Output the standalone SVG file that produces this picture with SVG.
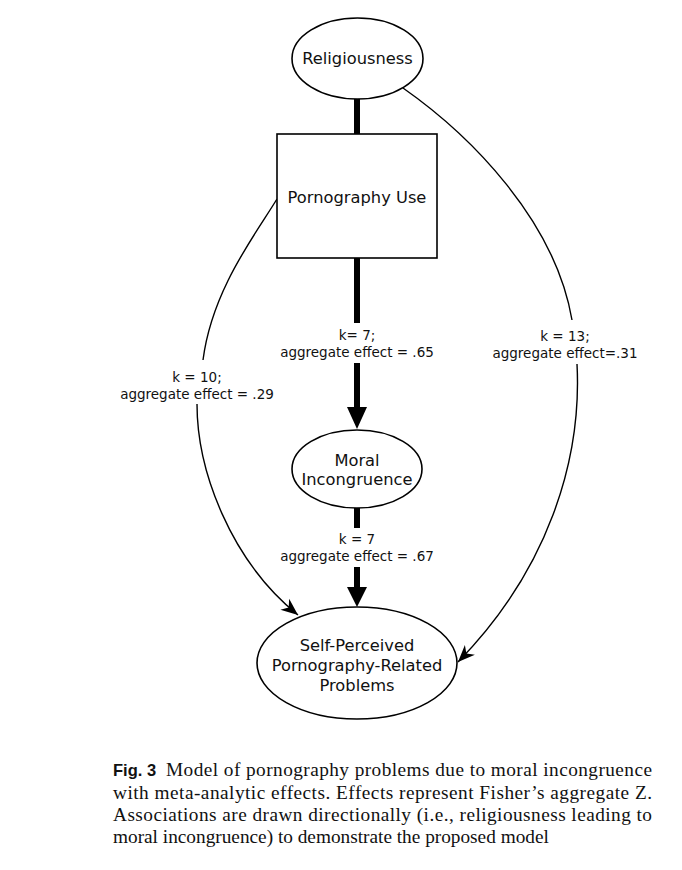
<svg xmlns="http://www.w3.org/2000/svg" width="682" height="870" viewBox="0 0 682 870">
<style>
.node{fill:#fff;stroke:#000;stroke-width:1.6}
.nt{font-family:"DejaVu Sans",sans-serif;font-size:16.3px;fill:#111;text-anchor:middle}
.lb{font-family:"DejaVu Sans",sans-serif;font-size:13.5px;fill:#111;text-anchor:middle}
.thick{stroke:#000;stroke-width:6;fill:none}
.thin{stroke:#000;stroke-width:1.4;fill:none}
.cap{font-family:"Liberation Serif",serif;font-size:19.3px;fill:#111}
.capb{font-family:"Liberation Sans",sans-serif;font-size:16.5px;font-weight:bold;fill:#111}
</style>
<defs>
<marker id="barb" markerUnits="userSpaceOnUse" markerWidth="20" markerHeight="16" refX="0" refY="0" viewBox="-18 -8 20 16" orient="auto">
<path d="M0,0 L-17,-7 L-12,0 L-17,7 Z" fill="#000"/>
</marker>
</defs>
<rect width="682" height="870" fill="#fff"/>
<g id="connectors">
<line class="thick" x1="357" y1="99" x2="357" y2="134"/>
<line class="thick" x1="357" y1="258" x2="357" y2="323"/>
<line class="thick" x1="357" y1="363" x2="357" y2="410"/>
<path d="M347,407 L367,407 L357,429 Z" fill="#000"/>
<line class="thick" x1="357" y1="508" x2="357" y2="528"/>
<line class="thick" x1="357" y1="567" x2="357" y2="589"/>
<path d="M347,587 L367,587 L357,607 Z" fill="#000"/>
<path class="thin" d="M277,199 C255,235 212,290 203,360"/>
<path class="thin" d="M197,404 C197,470 230,560 298,615" marker-end="url(#barb)"/>
<path class="thin" d="M403,88 C470,135 555,220 572,320"/>
<path class="thin" d="M577,364 C582,460 548,570 458,662" marker-end="url(#barb)"/>
<text class="lb" x="357" y="340">k= 7;</text>
<text class="lb" x="357" y="357">aggregate effect = .65</text>
<text class="lb" x="357" y="544">k = 7</text>
<text class="lb" x="357" y="561">aggregate effect = .67</text>
<text class="lb" x="197" y="382">k = 10;</text>
<text class="lb" x="197" y="399">aggregate effect = .29</text>
<text class="lb" x="565" y="341">k = 13;</text>
<text class="lb" x="565" y="358">aggregate effect=.31</text>
</g>
<g id="religiousness">
<ellipse class="node" cx="357.5" cy="58.5" rx="65.5" ry="40.5"/>
<text class="nt" x="357.5" y="64">Religiousness</text>
</g>
<g id="pornography-use">
<rect class="node" x="277" y="134" width="160" height="124"/>
<text class="nt" x="357" y="203">Pornography Use</text>
</g>
<g id="moral-incongruence">
<ellipse class="node" cx="357" cy="469" rx="65" ry="39"/>
<text class="nt" x="357" y="466">Moral</text>
<text class="nt" x="357" y="485">Incongruence</text>
</g>
<g id="problems">
<ellipse class="node" cx="357" cy="663" rx="100" ry="56"/>
<text class="nt" x="357" y="651">Self-Perceived</text>
<text class="nt" x="357" y="671">Pornography-Related</text>
<text class="nt" x="357" y="691">Problems</text>
</g>
<g id="caption">
<text class="capb" x="113" y="776">Fig. 3</text>
<text class="cap" x="166" y="776" textLength="486" lengthAdjust="spacing">Model of pornography problems due to moral incongruence</text>
<text class="cap" x="113" y="799" textLength="539" lengthAdjust="spacing">with meta-analytic effects. Effects represent Fisher’s aggregate Z.</text>
<text class="cap" x="113" y="821" textLength="539" lengthAdjust="spacing">Associations are drawn directionally (i.e., religiousness leading to</text>
<text class="cap" x="113" y="843">moral incongruence) to demonstrate the proposed model</text>
</g>
</svg>
